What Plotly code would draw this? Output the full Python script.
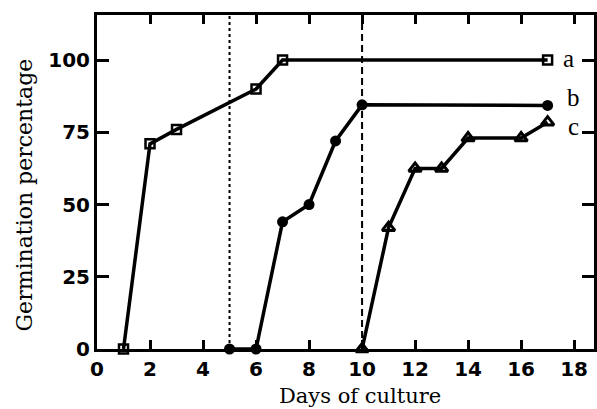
import plotly.graph_objects as go

days_a = [1, 2, 3, 6, 7, 17]
germ_a = [0, 71, 76, 90, 100, 100]
days_b = [5, 6, 7, 8, 9, 10, 17]
germ_b = [0, 0, 44, 50, 72, 84.5, 84.3]
days_c = [10, 11, 12, 13, 14, 16, 17]
germ_c = [0, 42, 62.5, 62.5, 73, 73, 78.5]
series_labels = ["a", "b", "c"]
label_pos_x = [17.5, 17.65, 17.7]
label_pos_y = [100.5, 87, 77]
x_ticks = [0, 2, 4, 6, 8, 10, 12, 14, 16, 18]
y_ticks = [0, 25, 50, 75, 100]
vline_days = [5, 10]

fig = go.Figure()
line = dict(color="black", width=3.5)
fig.add_trace(go.Scatter(x=days_a, y=germ_a, mode="lines+markers", line=line,
                         marker=dict(symbol="square-open", size=9, color="black", line=dict(width=2.5)),
                         cliponaxis=False))
fig.add_trace(go.Scatter(x=days_b, y=germ_b, mode="lines+markers", line=line,
                         marker=dict(symbol="circle", size=11, color="black"),
                         cliponaxis=False))
fig.add_trace(go.Scatter(x=days_c, y=germ_c, mode="lines+markers", line=line,
                         marker=dict(symbol="triangle-up-open", size=11, color="black", line=dict(width=3)),
                         cliponaxis=False))

fig.add_shape(type="line", x0=vline_days[0], x1=vline_days[0], y0=0, y1=1, yref="paper",
              line=dict(color="black", width=2, dash="dot"), layer="below")
fig.add_shape(type="line", x0=vline_days[1], x1=vline_days[1], y0=0, y1=1, yref="paper",
              line=dict(color="black", width=2, dash="7px,4px"), layer="below")

for lab, lx, ly in zip(series_labels, label_pos_x, label_pos_y):
    fig.add_annotation(x=lx, y=ly, text=lab, showarrow=False, xanchor="left",
                       font=dict(family="Liberation Serif", size=25, color="black"))

fig.add_annotation(xref="paper", yref="paper", x=0.53, y=-0.142, text="Days of culture",
                   showarrow=False, xanchor="center", yanchor="middle",
                   font=dict(family="DejaVu Serif", size=21, color="black"))
fig.add_annotation(xref="paper", yref="paper", x=-0.146, y=0.461, text="Germination percentage",
                   showarrow=False, xanchor="center", yanchor="middle", textangle=-90,
                   font=dict(family="DejaVu Serif", size=22, color="black"))

axis_common = dict(showline=True, linecolor="black", linewidth=3, mirror="ticks",
                   ticks="inside", tickcolor="black", tickwidth=3, showgrid=False,
                   zeroline=False,
                   tickfont=dict(family="DejaVu Sans", size=20, color="black", weight="bold"))

fig.update_xaxes(range=[0, 18.75], tickvals=x_ticks, ticklen=9, **axis_common)
fig.update_yaxes(range=[0, 115.6], tickvals=y_ticks, ticklen=12, **axis_common)

fig.update_layout(width=597, height=409, margin=dict(l=97, r=0, t=15, b=60),
                  plot_bgcolor="white", paper_bgcolor="white", showlegend=False)

fig.write_html("out.html", config={"displayModeBar": False},
               post_script="document.body.style.margin='0';document.body.style.overflow='hidden';")
